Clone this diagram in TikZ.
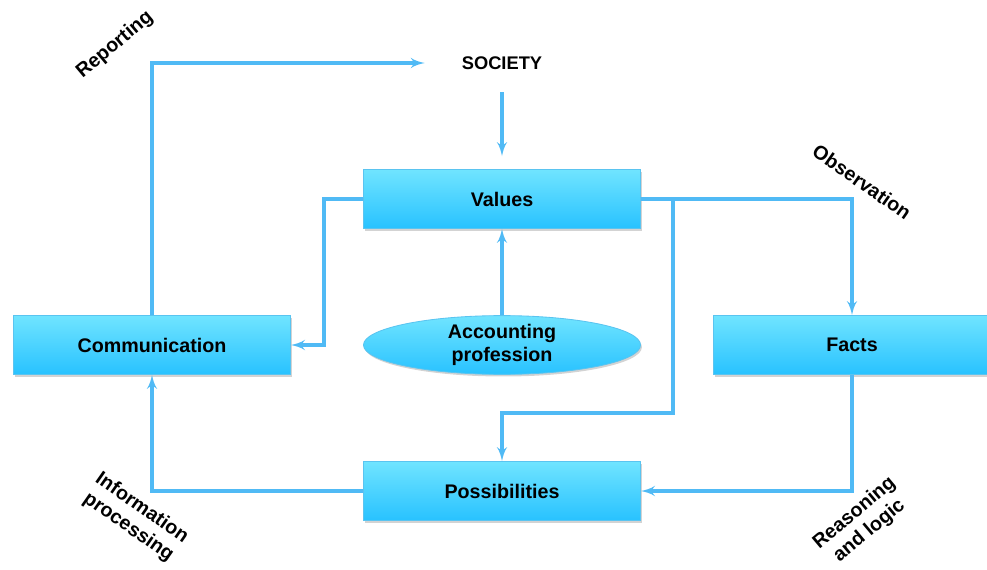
\documentclass[tikz,border=0pt]{standalone}
\usepackage{fontspec}
\setmainfont{Liberation Sans}
\usepackage{tikz}
\usetikzlibrary{arrows, positioning, shapes.geometric, shadows}
\definecolor{linkblue}{RGB}{80,186,245}
\definecolor{boxtop}{RGB}{112,228,255}
\definecolor{boxbottom}{RGB}{40,194,255}
\definecolor{boxedge}{RGB}{90,196,240}

\tikzset{
	box/.style={rectangle, draw=boxedge, line width=0.6pt, top color=boxtop, bottom color=boxbottom,
		minimum width=6.925cm, minimum height=1.475cm, inner sep=0pt,
		font=\fontsize{14}{16.5}\selectfont\bfseries,
		drop shadow={opacity=0.35, shadow xshift=1pt, shadow yshift=-1.5pt}},
	link/.style={->, draw=linkblue, line width=2.4pt},
	tag/.style={font=\fontsize{14}{16.5}\selectfont\bfseries, align=center}
}

\begin{document}
\begin{tikzpicture}[auto, x=0.025cm, y=-0.025cm, >=latex']
		\useasboundingbox (0,0) rectangle (987,570);

		\node[font=\fontsize{13}{15}\selectfont\bfseries, minimum width=3.85cm, minimum height=1.45cm, inner sep=0pt] (soc) at (502,63) {SOCIETY};
		\node[box] (val) at (502,199) {Values};
		\node[box] (comm) at (152,345) {Communication};
		\node[box] (facts) at (852,345) {Facts};
		\node[box] (poss) at (502,491) {Possibilities};
		\node[box, ellipse, minimum height=1.4cm, align=center] (acc) at (502,345) {Accounting\\profession};

		\draw[link, shorten >=0.325cm] (soc.south) -- (val.north);
		\draw[link] (comm.north) |- (soc.west);
		\draw[link] (acc.north) -- (val.south);
		\draw[link] (val.west) -- ++(-39,0) |- (comm.east);
		\draw[link] (val.east) -| (facts.north);
		\draw[link] (val.east) -- ++(32,0) -- ++(0,214) -| (poss.north);
		\draw[link] (facts.south) |- (poss.east);
		\draw[link] (poss.west) -| (comm.south);

		\node[tag, rotate=40] (rep) at (115,45) {Reporting};
		\node[tag, rotate=-35] (obs) at (862,182) {Observation};
		\node[tag, rotate=-35] (info) at (135,518) {Information\\processing};
		\node[tag, rotate=40] (reas) at (862,522) {Reasoning\\and logic};
	\end{tikzpicture}
\end{document}
